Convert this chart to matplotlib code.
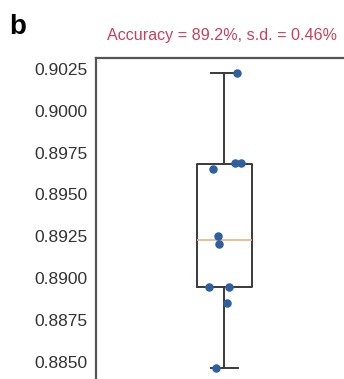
import matplotlib.pyplot as plt
import numpy as np

# accuracy of 10 runs
acc = [0.90226, 0.89652, 0.89688, 0.89688, 0.89251,
       0.89203, 0.88946, 0.88946, 0.88850, 0.88462]
# horizontal jitter of the dots
jitter = [0.114, -0.105, 0.095, 0.150, -0.059,
          -0.050, -0.141, 0.041, 0.023, -0.077]

yticks = [0.8850, 0.8875, 0.8900, 0.8925, 0.8950, 0.8975, 0.9000, 0.9025]
title = "Accuracy = 89.2%, s.d. = 0.46%"

plt.rcParams['font.family'] = ['Liberation Sans', 'DejaVu Sans']

fig = plt.figure(figsize=(3.44, 3.79), dpi=100)
ax = fig.add_axes([0.279, -0.0554, 0.767, 0.9024])

edge = "#3a3a3a"
ax.boxplot(
    [acc],
    positions=[0],
    widths=0.5,
    whis=1.5,
    showfliers=False,
    boxprops=dict(color=edge, linewidth=1.4),
    whiskerprops=dict(color=edge, linewidth=1.4),
    capprops=dict(color=edge, linewidth=1.4),
    medianprops=dict(color="#e6b57e", linewidth=1.2),
)

ax.scatter(np.array(jitter), acc, s=26, color="#2f5f9e", zorder=3)

ax.set_xlim(-1.168, 1.232)
ax.set_ylim(0.88270, 0.90316)
ax.set_xticks([])
ax.set_yticks(yticks)
ax.set_yticklabels([f"{t:.4f}" for t in yticks])
ax.tick_params(axis="y", length=0, pad=6, labelsize=12.5, labelcolor="#333333")

for s in ax.spines.values():
    s.set_color("#555555")
    s.set_linewidth(1.6)

ax.text(-0.02, 1.045, title, transform=ax.get_xaxis_transform(),
        ha="center", va="bottom", color="#c8405a", fontsize=11.6)

fig.text(0.028, 0.93, "b", fontsize=20, fontweight="bold", va="center")

fig.savefig("out.png", dpi=100)
